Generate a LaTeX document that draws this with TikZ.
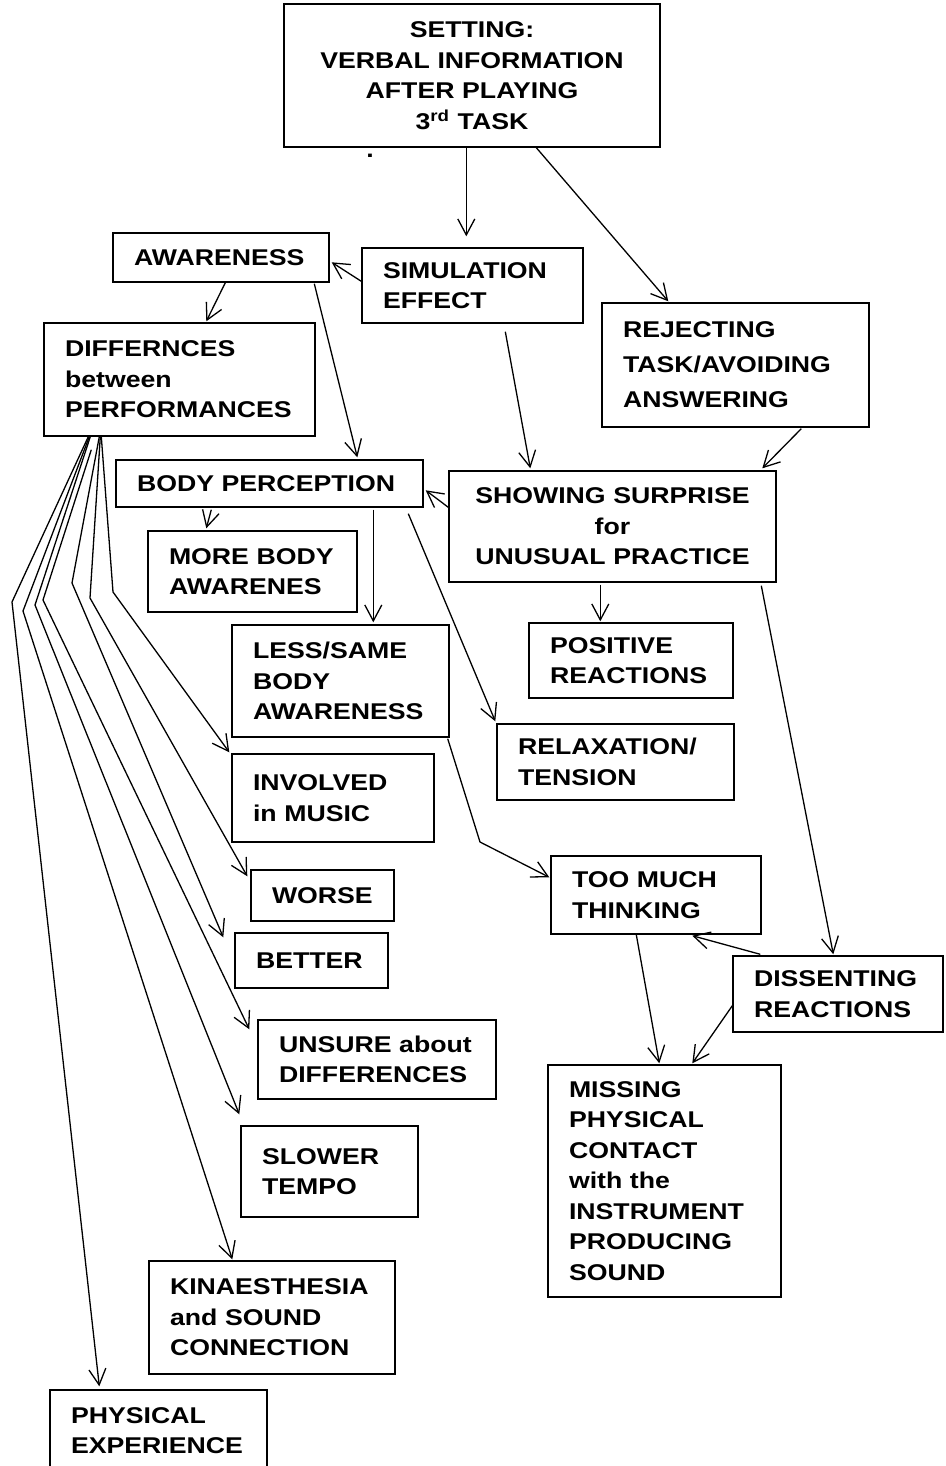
\documentclass[tikz,border=0pt]{standalone}
\usepackage{fontspec}
\setmainfont{Liberation Sans}[FakeStretch=1.17]
\usetikzlibrary{arrows.meta}
\hyphenpenalty=10000
\exhyphenpenalty=10000

\tikzset{
  % a box given by its corners (x1,y1) and (x2,y2), text indented from the left
  bx/.style n args={4}{draw, line width=0.7pt, inner sep=0pt, align=left,
    at={({(#1+#3)/2},{(#2+#4)/2})},
    minimum width={(#3-#1)*0.5pt}, minimum height={(#4-#2)*0.5pt},
    text width={(#3-#1-42)*0.5pt}},
  lbl/.style={font=\bfseries\fontsize{11.4pt}{15.25pt}\selectfont},
  widelines/.style={font=\bfseries\fontsize{11.4pt}{17.5pt}\selectfont},
  arr/.style={line width=0.65pt, line join=miter,
    -{Straight Barb[length=8pt,width=8.5pt,line width=0.65pt]}},
}

\begin{document}
\begin{tikzpicture}[x=0.5pt, y=-0.5pt, every node/.style={lbl}]
\useasboundingbox (0,0) rectangle (946,1466);
\clip (0,0) rectangle (946,1466);

% boxes
\node[bx={284}{4}{660}{147}, align=center] (set)
  {SETTING:\\VERBAL INFORMATION\\AFTER PLAYING\\3\textsuperscript{rd} TASK};
\node (dot) at (370,156) {.};
\node[bx={113}{233}{329}{282}] (aw) {AWARENESS};
\node[bx={362}{248}{583}{323}] (sim) {SIMULATION\\EFFECT};
\node[bx={602}{303}{869}{427}, widelines] (rej) {REJECTING\\TASK/AVOIDING\\ANSWERING};
\node[bx={44}{323}{315}{436}] (dif) {DIFFERNCES\\between\\PERFORMANCES};
\node[bx={116}{460}{423}{507}] (bp) {BODY PERCEPTION};
\node[bx={449}{471}{776}{582}, align=center] (show) {SHOWING SURPRISE\\for\\UNUSUAL PRACTICE};
\node[bx={148}{531}{357}{612}] (more) {MORE BODY\\AWARENES};
\node[bx={232}{625}{449}{737}] (less) {LESS/SAME\\BODY\\AWARENESS};
\node[bx={529}{623}{733}{698}] (pos) {POSITIVE\\REACTIONS};
\node[bx={497}{724}{734}{800}] (rel) {RELAXATION/\\TENSION};
\node[bx={232}{754}{434}{842}] (inv) {INVOLVED\\in MUSIC};
\node[bx={551}{856}{761}{934}] (too) {TOO MUCH\\THINKING};
\node[bx={251}{870}{394}{921}] (wor) {WORSE};
\node[bx={235}{933}{388}{988}] (bet) {BETTER};
\node[bx={733}{956}{943}{1032}] (dis) {DISSENTING\\REACTIONS};
\node[bx={258}{1020}{496}{1099}] (uns) {UNSURE about\\DIFFERENCES};
\node[bx={548}{1065}{781}{1297}] (mis)
  {MISSING\\PHYSICAL\\CONTACT\\with the\\INSTRUMENT\\PRODUCING\\SOUND};
\node[bx={241}{1126}{418}{1217}] (slo) {SLOWER\\TEMPO};
\node[bx={149}{1261}{395}{1374}] (kin) {KINAESTHESIA\\and SOUND\\CONNECTION};
\node[bx={50}{1390}{267}{1471}] (phy) {PHYSICAL\\EXPERIENCE};

% connectors
\draw[arr] ([shift={(183,0)}]set.south west) -- ([shift={(105,-11)}]sim.north west);
\draw[arr] ([shift={(253,0)}]set.south west) -- ([shift={(67,-1)}]rej.north west);
\draw[arr] ([shift={(0,34)}]sim.north west) -- ([shift={(2,30)}]aw.north east);
\draw[arr] ([shift={(113,0)}]aw.south west) -- ([shift={(163,-1)}]dif.north west);
\draw[arr] ([shift={(202,1)}]aw.south west) -- ([shift={(242,-2)}]bp.north west);
\draw[arr] ([shift={(144,8)}]sim.south west) -- ([shift={(82,-2)}]show.north west);
\draw[arr] ([shift={(200,1)}]rej.south west) -- ([shift={(314,-2)}]show.north west);
\draw[arr] ([shift={(0,37)}]show.north west) -- ([shift={(2,31)}]bp.north east);
\draw[arr] ([shift={(96,2)}]bp.south west) -- ([shift={(59,-2)}]more.north west);
\draw[arr] ([shift={(258,2)}]bp.south west) -- ([shift={(142,-2)}]less.north west);
\draw[arr] ([shift={(293,6)}]bp.south west) -- ([shift={(-1,-2)}]rel.north west);
\draw[arr] ([shift={(152,2)}]show.south west) -- ([shift={(72,-1)}]pos.north west);
\draw[arr] ([shift={(313,3)}]show.south west) -- ([shift={(101,-1)}]dis.north west);
\draw[arr] ([shift={(-2,1)}]less.south east) -- (480,842) -- ([shift={(-1,22)}]too.north west);
\draw[arr] ([shift={(28,-1)}]dis.north west) -- ([shift={(142,1)}]too.south west);
\draw[arr] ([shift={(86,0)}]too.south west) -- ([shift={(112,-1)}]mis.north west);
\draw[arr] ([shift={(1,49)}]dis.north west) -- ([shift={(145,-1)}]mis.north west);

% fan of links from the differences box
\draw[arr] ([shift={(45,0)}]dif.south west) -- (12,602) -- ([shift={(50,-3)}]phy.north west);
\draw[arr] ([shift={(46,0)}]dif.south west) -- (23,611) -- ([shift={(84,-1)}]kin.north west);
\draw[arr] ([shift={(47,0)}]dif.south west) -- (35,605) -- ([shift={(-1,-11)}]slo.north west);
\draw[arr] ([shift={(48,13)}]dif.south west) -- (43,600) -- ([shift={(-8,10)}]uns.north west);
\draw[arr] ([shift={(56,0)}]dif.south west) -- (72,583) -- ([shift={(-11,5)}]bet.north west);
\draw[arr] ([shift={(57,0)}]dif.south west) -- (90,598) -- ([shift={(-3,7)}]wor.north west);
\draw[arr] ([shift={(58,0)}]dif.south west) -- (113,592) -- ([shift={(-2,-1)}]inv.north west);
\end{tikzpicture}
\end{document}
